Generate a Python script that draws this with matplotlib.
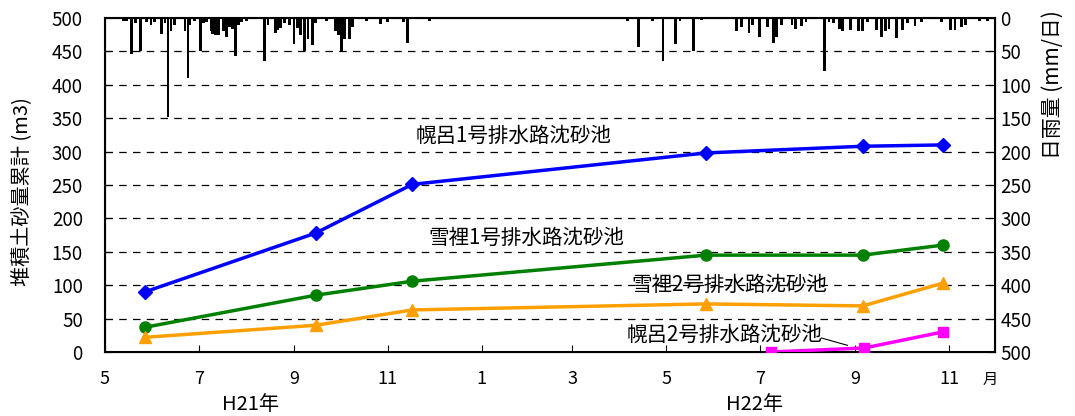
import matplotlib
matplotlib.use("Agg")
import matplotlib.pyplot as plt
import numpy as np
from datetime import datetime

plt.rcParams['font.family'] = ['Noto Sans CJK JP', 'DejaVu Sans']

# sediment survey dates and cumulative volumes (m3)
survey_dates = ["2009-05-27", "2009-09-15", "2009-11-17", "2010-05-27", "2010-09-06", "2010-10-28"]
hororo1 = [90, 178, 251, 298, 308, 310]
setsuri1 = [37, 85, 106, 145, 145, 160]
setsuri2 = [22, 40, 63, 72, 69, 103]
hororo2_dates = ["2010-07-08", "2010-09-07", "2010-10-28"]
hororo2 = [0, 6, 30]

# daily rainfall (mm/day)
rain_dates = [
    "2009-05-04", "2009-05-13", "2009-05-15", "2009-05-18", "2009-05-21", "2009-05-24",
    "2009-05-28", "2009-05-31", "2009-06-02", "2009-06-07", "2009-06-09", "2009-06-11",
    "2009-06-13", "2009-06-15", "2009-06-22", "2009-06-24", "2009-06-25", "2009-06-28",
    "2009-07-02", "2009-07-04", "2009-07-06", "2009-07-09", "2009-07-10", "2009-07-12",
    "2009-07-14", "2009-07-17", "2009-07-19", "2009-07-21", "2009-07-23", "2009-07-25",
    "2009-07-27", "2009-07-29", "2009-08-01", "2009-08-04", "2009-08-13", "2009-08-15",
    "2009-08-20", "2009-08-21", "2009-08-23", "2009-08-26", "2009-08-29", "2009-09-01",
    "2009-09-03", "2009-09-05", "2009-09-08", "2009-09-10", "2009-09-13", "2009-09-15",
    "2009-09-22", "2009-09-25", "2009-09-28", "2009-09-30", "2009-10-02", "2009-10-04",
    "2009-10-07", "2009-10-09", "2009-10-18", "2009-10-27", "2009-11-01", "2009-11-11",
    "2009-11-14", "2009-11-17", "2009-11-21", "2009-11-28",
    "2010-04-06", "2010-04-13", "2010-04-22", "2010-04-29", "2010-05-07", "2010-05-10",
    "2010-05-19", "2010-05-24", "2010-06-06", "2010-06-16", "2010-06-19", "2010-06-24",
    "2010-06-26", "2010-07-01", "2010-07-06", "2010-07-10", "2010-07-12", "2010-07-15",
    "2010-07-22", "2010-07-24", "2010-07-28", "2010-07-31", "2010-08-08", "2010-08-12",
    "2010-08-15", "2010-08-18", "2010-08-22", "2010-08-24", "2010-08-29", "2010-09-03",
    "2010-09-06", "2010-09-09", "2010-09-15", "2010-09-18", "2010-09-21", "2010-09-23",
    "2010-09-28", "2010-10-02", "2010-10-05", "2010-10-10", "2010-10-14", "2010-10-18",
    "2010-10-27", "2010-11-02", "2010-11-05", "2010-11-09", "2010-11-12", "2010-11-21",
    "2010-11-26",
]
rain_mm = [
    1, 5, 5, 54, 8, 49,
    6, 10, 6, 24, 8, 148,
    20, 10, 20, 90, 10, 4,
    50, 8, 6, 20, 24, 26,
    25, 20, 28, 14, 16, 57,
    10, 6, 4, 2, 64, 10,
    22, 18, 15, 8, 10, 39,
    15, 26, 50, 32, 40, 8,
    5, 2, 20, 26, 51, 32,
    32, 14, 4, 9, 6, 6,
    38, 2, 2, 5,
    4, 43, 4, 64, 39, 4,
    50, 3, 1, 20, 14, 22,
    10, 28, 14, 37, 28, 10,
    10, 16, 12, 6, 2, 80,
    6, 8, 16, 20, 18, 20,
    20, 6, 18, 28, 20, 16,
    30, 18, 8, 12, 6, 2,
    6, 18, 18, 14, 10, 4,
    4,
]

tick_months = ["2009-05-01", "2009-07-01", "2009-09-01", "2009-11-01", "2010-01-01",
               "2010-03-01", "2010-05-01", "2010-07-01", "2010-09-01", "2010-11-01"]
tick_labels = ["5", "7", "9", "11", "1", "3", "5", "7", "9", "11"]


def toDates(strings):
    return [datetime.strptime(s, "%Y-%m-%d") for s in strings]


fig = plt.figure(figsize=(10.75, 4.16), dpi=100)
ax = fig.add_axes([105 / 1075, 1 - 352 / 416, 890 / 1075, 334 / 416])

ax.set_ylim(0, 500)
ax.set_yticks(np.arange(0, 501, 50))
ax.set_xlim(datetime(2009, 5, 1), datetime(2010, 12, 1))
ax.set_xticks(toDates(tick_months))
ax.set_xticklabels(tick_labels)
for y in range(50, 500, 50):
    ax.axhline(y, color='black', lw=0.9, ls=(0, (6, 5)), zorder=1)

ax.tick_params(axis='x', direction='in', length=5, pad=13, labelsize=13)
ax.tick_params(axis='y', direction='in', length=5, pad=16, labelsize=13.5)
for s in ax.spines.values():
    s.set_linewidth(1.5)

ax2 = ax.twinx()
ax2.bar(toDates(rain_dates), rain_mm, width=1.8, color='black', zorder=2)
ax2.set_ylim(500, 0)
ax2.set_yticks(np.arange(0, 501, 50))
ax2.tick_params(axis='y', direction='in', length=5, pad=4, labelsize=13.5)

ax.set_zorder(ax2.get_zorder() + 1)
ax.patch.set_visible(False)

sd = toDates(survey_dates)
ax.plot(sd, hororo1, color='#0000FF', lw=2.5, marker='D', ms=7, zorder=5)
ax.plot(sd, setsuri1, color='#008000', lw=2.5, marker='o', ms=8, zorder=5)
ax.plot(sd, setsuri2, color='#FFA000', lw=2.5, marker='^', ms=8, zorder=5)
ax.plot(toDates(hororo2_dates), hororo2, color='#FF00FF', lw=2.5, marker='s', ms=7, zorder=5)

ax.text(datetime(2010, 1, 22), 323, "幌呂1号排水路沈砂池", fontsize=14.8, ha='center', va='center')
ax.text(datetime(2010, 1, 30), 171, "雪裡1号排水路沈砂池", fontsize=14.8, ha='center', va='center')
ax.text(datetime(2010, 6, 11), 100, "雪裡2号排水路沈砂池", fontsize=14.8, ha='center', va='center')
ax.text(datetime(2010, 6, 8), 25, "幌呂2号排水路沈砂池", fontsize=14.8, ha='center', va='center')
ax.plot([datetime(2010, 8, 10), datetime(2010, 8, 27)], [21, 10], color='black', lw=0.8, zorder=4)

fig.text(22 / 1075, 1 - 192 / 416, "堆積土砂量累計 (m3)", rotation=90, fontsize=14.5, ha='center', va='center')
fig.text(1053 / 1075, 1 - 85 / 416, "日雨量 (mm/日)", rotation=90, fontsize=15, ha='center', va='center')
fig.text(990 / 1075, 1 - 379 / 416, "月", fontsize=11, ha='center', va='center')
fig.text(250 / 1075, 1 - 404 / 416, "H21年", fontsize=14.5, ha='center', va='center')
fig.text(755 / 1075, 1 - 404 / 416, "H22年", fontsize=14.5, ha='center', va='center')

fig.savefig("out.png", dpi=100)
